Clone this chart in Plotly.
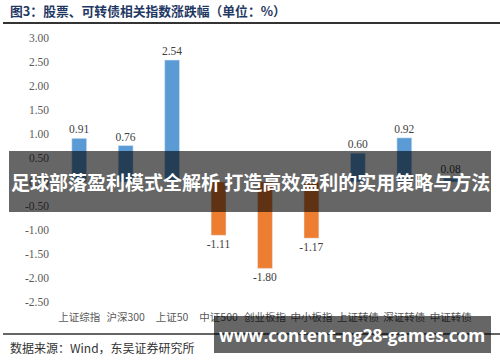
import plotly.graph_objects as go

categories = ["上证综指", "沪深300", "上证50", "中证500", "创业板指", "中小板指", "上证转债", "深证转债", "中证转债"]
values = [0.91, 0.76, 2.54, -1.11, -1.80, -1.17, 0.60, 0.92, 0.08]
y_ticks = [3.0, 2.5, 2.0, 1.5, 1.0, 0.5, 0.0, -0.5, -1.0, -1.5, -2.0, -2.5]

title_text = "图3：股票、可转债相关指数涨跌幅（单位：%）"
source_text = "数据来源：Wind，东吴证券研究所"
banner_text = "足球部落盈利模式全解析 打造高效盈利的实用策略与方法"
watermark_text = "www.content-ng28-games.com"

W, H = 500, 362
L, R, T, B = 56, 26, 38, 60
PW, PH = W - L - R, H - T - B

def px(x):
    return (x - L) / PW

def py(y):
    return (H - B - y) / PH

colors = ["#5B9BD5" if v >= 0 else "#ED7D31" for v in values]

fig = go.Figure(go.Bar(
    x=categories, y=values, marker_color=colors, width=0.32,
    text=[f"{v:.2f}" for v in values], textposition="outside",
    constraintext="none",
    textfont=dict(family="Liberation Serif", size=11.5, color="#404040"),
    cliponaxis=False,
))

fig.update_layout(
    width=W, height=H,
    margin=dict(l=L, r=R, t=T, b=B),
    paper_bgcolor="white", plot_bgcolor="white",
    showlegend=False,
    xaxis=dict(showgrid=False, showline=False, zeroline=False, ticks="",
               ticklabelstandoff=7,
               tickfont=dict(family="Noto Sans CJK SC", size=10.5, color="#595959"),
               range=[-0.5, 8.5]),
    yaxis=dict(range=[-2.5, 3.0], tickvals=y_ticks,
               ticktext=[f"{t:.2f}" for t in y_ticks],
               showgrid=False, showline=False, zeroline=False, ticks="",
               ticklabelstandoff=6,
               tickfont=dict(family="Liberation Serif", size=11.5, color="#595959")),
    shapes=[
        dict(type="line", xref="paper", yref="paper", x0=px(3), x1=px(500), y0=py(23), y1=py(23),
             line=dict(color="#333333", width=2), layer="above"),
        dict(type="line", xref="paper", yref="paper", x0=px(3), x1=px(500), y0=py(334), y1=py(334),
             line=dict(color="#333333", width=1.5), layer="above"),
        dict(type="rect", xref="paper", yref="paper", x0=px(9), x1=px(491), y0=py(212), y1=py(151),
             fillcolor="rgba(0,0,0,0.6)", line=dict(width=0), layer="above"),
        dict(type="rect", xref="paper", yref="paper", x0=px(214), x1=px(491), y0=py(353), y1=py(316),
             fillcolor="rgba(0,0,0,0.6)", line=dict(width=0), layer="above"),
    ],
    annotations=[
        dict(text="<b>" + title_text + "</b>", xref="paper", yref="paper", x=px(8), y=py(11),
             xanchor="left", yanchor="middle", showarrow=False,
             font=dict(family="Noto Sans CJK SC", size=12.8, color="#1F3864")),
        dict(text=source_text, xref="paper", yref="paper", x=px(8), y=py(347),
             xanchor="left", yanchor="middle", showarrow=False,
             font=dict(family="Noto Sans CJK SC", size=12, color="#333333")),
        dict(text="<b>" + banner_text + "</b>", xref="paper", yref="paper", x=px(250), y=py(181),
             xanchor="center", yanchor="middle", showarrow=False,
             font=dict(family="Noto Sans CJK SC", size=19, color="white")),
        dict(text="<b>" + watermark_text + "</b>", xref="paper", yref="paper", x=px(352), y=py(335),
             xanchor="center", yanchor="middle", showarrow=False,
             font=dict(family="Open Sans", size=17.3, color="white")),
    ],
)

fig.write_html("out.html", config={"displayModeBar": False},
               post_script="document.body.style.margin='0';")
